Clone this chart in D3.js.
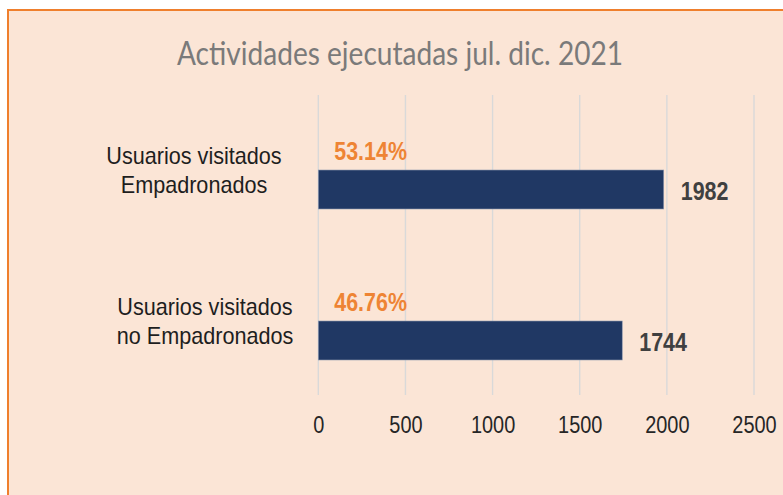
<!DOCTYPE html>
<html>
<head>
<meta charset="utf-8">
<script src="https://cdn.jsdelivr.net/npm/d3@7"></script>
<style>
  body { margin: 0; background: #fff; }
  svg { display: block; }
</style>
</head>
<body>
<div class="chart"></div>
<script>
// data
var categories = ["Usuarios visitados|Empadronados", "Usuarios visitados|no Empadronados"];
var values = [1982, 1744];
var percents = ["53.14%", "46.76%"];
var tickValues = [0, 500, 1000, 1500, 2000, 2500];
var TITLE = "Actividades ejecutadas jul. dic. 2021";

WIDTH = 783
HEIGHT = 495
BAR_H = 39
BG = "#FBE5D6"
NAVY = "#203864"
ORANGE = "#EE8434"
LABEL_CX = [194, 205]   // excel centres the two labels a bit differently

// text in the picture is squeezed horizontally, so scale glyphs to fit
function squeeze(sel, k) {
	sel.each(function() {
		var len = this.getComputedTextLength();
		d3.select(this).attr("textLength", len * k).attr("lengthAdjust", "spacingAndGlyphs");
	});
}

var svg = d3.select(".chart").append("svg")
	.attr("width", WIDTH)
	.attr("height", HEIGHT);

// panel with orange frame (runs off the right and bottom edge)
svg.append("rect")
	.attr("x", 8)
	.attr("y", 10)
	.attr("width", WIDTH + 20)
	.attr("height", HEIGHT + 20)
	.style("fill", BG)
	.style("stroke", "#EF7F2D")
	.style("stroke-width", 2);

var x = d3.scaleLinear().domain([0, 2500]).range([318.3, 754]);
var y = d3.scalePoint().domain(categories).range([189.5, 340.5]);

// title
svg.append("text")
	.attr("x", 400)
	.attr("y", 65)
	.attr("text-anchor", "middle")
	.style("font-family", "Lato, 'Open Sans', sans-serif")
	.style("font-size", "33px")
	.style("fill", "#7A7A7A")
	.attr("textLength", 446)
	.attr("lengthAdjust", "spacingAndGlyphs")
	.text(TITLE);

// vertical gridlines
svg.append("g").selectAll("line")
	.data(tickValues)
	.join("line")
	.attr("x1", d => x(d))
	.attr("x2", d => x(d))
	.attr("y1", 95)
	.attr("y2", 395)
	.style("stroke", "#D9D9D9")
	.style("stroke-width", 1.4);

// x axis labels
var axis = svg.append("g")
	.attr("transform", "translate(0,395)")
	.call(d3.axisBottom(x).tickValues(tickValues).tickSize(0).tickPadding(21).tickFormat(d3.format("d")));
axis.select(".domain").remove();
axis.selectAll("text")
	.style("font-family", "'Liberation Sans', Arial, sans-serif")
	.style("font-size", "24px")
	.style("fill", "#262626")
	.call(squeeze, 0.83);

// bars
svg.append("g").selectAll("rect")
	.data(values)
	.join("rect")
	.attr("x", x(0))
	.attr("y", (d, i) => y(categories[i]) - BAR_H / 2)
	.attr("width", d => x(d) - x(0))
	.attr("height", BAR_H)
	.style("fill", NAVY)
	.style("stroke", "#8F9AB0")
	.style("stroke-width", 0.6);

// value labels
svg.append("g").selectAll("text")
	.data(values)
	.join("text")
	.attr("x", d => x(d) + 17)
	.attr("y", (d, i) => y(categories[i]) + 10)
	.style("font-family", "'Liberation Sans', Arial, sans-serif")
	.style("font-weight", "bold")
	.style("font-size", "26.5px")
	.style("fill", "#404040")
	.text(d => d)
	.call(squeeze, 0.81);

// percentage labels
svg.append("g").selectAll("text")
	.data(percents)
	.join("text")
	.attr("x", x(0) + 16)
	.attr("y", (d, i) => y(categories[i]) - 29.5)
	.style("font-family", "'Liberation Sans', Arial, sans-serif")
	.style("font-weight", "bold")
	.style("font-size", "25.5px")
	.style("fill", ORANGE)
	.text(d => d)
	.call(squeeze, 0.84);

// category labels, two lines each
categories.forEach(function(c, i) {
	c.split("|").forEach(function(line, j) {
		svg.append("text")
			.attr("x", LABEL_CX[i])
			.attr("y", y(c) - 25.5 + j * 29)
			.attr("text-anchor", "middle")
			.style("font-family", "'Liberation Sans', Arial, sans-serif")
			.style("font-size", "24px")
			.style("fill", "#1E1E1E")
			.text(line)
			.call(squeeze, 0.9);
	});
});
</script>
</body>
</html>
